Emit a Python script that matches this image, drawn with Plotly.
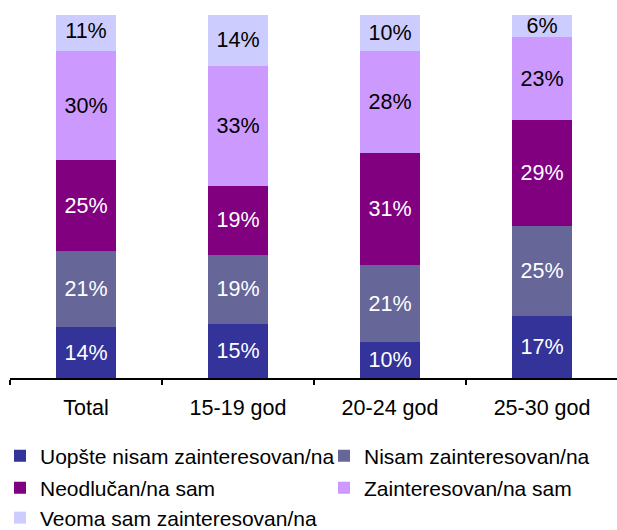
import plotly.graph_objects as go

categories = ["Total", "15-19 god", "20-24 god", "25-30 god"]
series_names = [
    "Uopšte nisam zainteresovan/na",
    "Nisam zainteresovan/na",
    "Neodlučan/na sam",
    "Zainteresovan/na sam",
    "Veoma sam zainteresovan/na",
]
uopste = [14, 15, 10, 17]
nisam = [21, 19, 21, 25]
neodlucan = [25, 19, 31, 29]
zainteresovan = [30, 33, 28, 23]
veoma = [11, 14, 10, 6]

values = [uopste, nisam, neodlucan, zainteresovan, veoma]
colors = ["#333399", "#666699", "#800080", "#CC99FF", "#CCCCFF"]
text_colors = ["white", "white", "white", "black", "black"]
legend_ids = ["legend", "legend2", "legend3", "legend4", "legend5"]

FONT = "Liberation Sans, Arial, sans-serif"

fig = go.Figure()
for name, vals, col, tcol, lg in zip(series_names, values, colors, text_colors, legend_ids):
    fig.add_trace(go.Bar(
        x=categories, y=vals, name=name,
        marker=dict(color=col, line=dict(width=0)),
        width=0.40,
        text=[f"{v}%" for v in vals],
        textposition="inside",
        insidetextanchor="middle",
        textangle=0,
        textfont=dict(family=FONT, size=21.5, color=tcol),
        legend=lg,
        hoverinfo="skip",
    ))

W, H = 617, 530
ml, mr, mt, mb = 10, 0, 15, 152
pw = W - ml - mr
ph = H - mt - mb


def lx(px):
    return (px - ml) / pw


def ly(py):
    return (H - mb - py) / ph


leg_common = dict(
    orientation="h", xanchor="left", yanchor="middle",
    font=dict(family=FONT, size=21, color="black"),
    bgcolor="rgba(0,0,0,0)", borderwidth=0, itemwidth=30,
)
legend_pos = [(0, 456), (324, 456), (0, 488), (324, 488), (0, 518)]
layout_legends = {}
for lg, (px, py) in zip(legend_ids, legend_pos):
    layout_legends[lg] = dict(leg_common, x=lx(px), y=ly(py))

fig.update_layout(
    width=W, height=H,
    margin=dict(l=ml, r=mr, t=mt, b=mb, autoexpand=False),
    barmode="stack",
    plot_bgcolor="white", paper_bgcolor="white",
    showlegend=True,
    uniformtext=dict(minsize=21.5, mode="show"),
    font=dict(family=FONT, color="black"),
    xaxis=dict(
        range=[-0.5, 3.493],
        showline=True, linecolor="black", linewidth=2,
        ticks="outside", tickson="boundaries", ticklen=5, tickwidth=2, tickcolor="black",
        ticklabelstandoff=9,
        tickfont=dict(family=FONT, size=21.5, color="black"),
        showgrid=False, zeroline=False,
    ),
    yaxis=dict(range=[0, 100], visible=False, showgrid=False, zeroline=False),
    **layout_legends,
)

fig.write_html(
    "out.html",
    config={"displayModeBar": False, "staticPlot": True},
    post_script="document.body.style.margin='0';document.body.style.overflow='hidden';",
)
